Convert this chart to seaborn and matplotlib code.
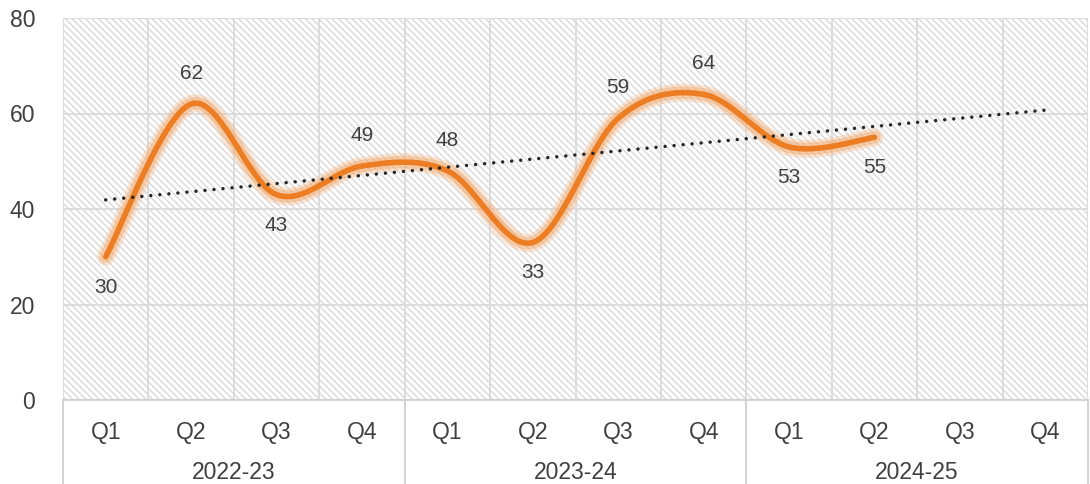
import numpy as np
import pandas as pd
import seaborn as sns
import matplotlib.pyplot as plt
import matplotlib.transforms as mtransforms

# 数据
quarters = ['Q1', 'Q2', 'Q3', 'Q4'] * 3
years = ['2022-23', '2023-24', '2024-25']
values = [30, 62, 43, 49, 48, 33, 59, 64, 53, 55]
label_side = ['below', 'above', 'below', 'above', 'above', 'below', 'above', 'above', 'below', 'below']

sns.set_theme(style='white')
plt.rcParams['font.family'] = ['Liberation Sans', 'DejaVu Sans']
plt.rcParams['hatch.linewidth'] = 1.0
plt.rcParams['hatch.color'] = '#d9d9d9'

text_c = '#404040'
grid_c = '#dadada'
orange = '#ec7d22'


def smooth(y, n=40):
    # 类似 Excel 平滑线 (Bezier, 1/6 张力)
    x = np.arange(len(y), dtype=float)
    y = np.asarray(y, dtype=float)
    px = np.concatenate([[x[0]], x, [x[-1]]])
    py = np.concatenate([[y[0]], y, [y[-1]]])
    t = np.linspace(0, 1, n)
    xs, ys = [], []
    for i in range(len(y) - 1):
        bx = []
        for p in (px, py):
            p0, p1, p2, p3 = p[i], p[i + 1], p[i + 2], p[i + 3]
            c1 = p1 + (p2 - p0) / 6
            c2 = p2 - (p3 - p1) / 6
            bx.append((1 - t) ** 3 * p1 + 3 * (1 - t) ** 2 * t * c1 + 3 * (1 - t) * t ** 2 * c2 + t ** 3 * p2)
        xs.append(bx[0])
        ys.append(bx[1])
    return np.concatenate(xs), np.concatenate(ys)


fig = plt.figure(figsize=(10.9, 4.84), dpi=100)
ax = fig.add_axes([63 / 1090, 84 / 484, (1088 - 63) / 1090, 382 / 484])
ax.set_facecolor('white')
ax.patch.set_hatch(chr(92) * 5)
ax.patch.set_edgecolor('#d9d9d9')

ax.set_xlim(-0.5, 11.5)
ax.set_ylim(0, 80)
ax.set_yticks([0, 20, 40, 60, 80])
ax.set_xticks(range(12))
ax.set_xticklabels(quarters)
ax.set_xticks(np.arange(-0.5, 12, 1), minor=True)
ax.tick_params(axis='both', which='both', length=0, labelsize=16.5, colors=text_c)
ax.tick_params(axis='x', pad=15)
ax.tick_params(axis='y', pad=20)
ax.set_axisbelow(True)
ax.grid(which='minor', axis='x', color=grid_c, lw=1.3)
ax.grid(which='major', axis='y', color=grid_c, lw=1.3)
ax.grid(which='major', axis='x', visible=False)
for s in ['top', 'right', 'left']:
    ax.spines[s].set_visible(False)
ax.spines['bottom'].set_color('#d0d0d0')
ax.spines['bottom'].set_linewidth(1.3)

# 下方分组线
for xb in [-0.5, 3.5, 7.5, 11.5]:
    ax.axvline(xb, ymin=-0.22, ymax=0, clip_on=False, color='#d0d0d0', lw=1.3)
trans = mtransforms.blended_transform_factory(ax.transData, ax.transAxes)
for i, yr in enumerate(years):
    ax.text(i * 4 + 1.5, -0.19, yr, transform=trans, ha='center', va='center',
            fontsize=16.5, color=text_c)

# 平滑曲线 + 光晕
sx, sy = smooth(values)
df = pd.DataFrame({'x': sx, 'y': sy})
sns.lineplot(data=df, x='x', y='y', ax=ax, sort=False, estimator=None, color='#f6b98a',
             lw=13, alpha=0.35, solid_capstyle='round')
sns.lineplot(data=df, x='x', y='y', ax=ax, sort=False, estimator=None, color='#f3a86c',
             lw=9, alpha=0.45, solid_capstyle='round')
sns.lineplot(data=df, x='x', y='y', ax=ax, sort=False, estimator=None, color=orange,
             lw=4, solid_capstyle='round')

# 线性趋势线 (向前预测 2 期)
coef = np.polyfit(np.arange(len(values)), values, 1)
xt = np.array([0, 11])
ax.plot(xt, np.polyval(coef, xt), color='#262626', lw=2.5,
        linestyle=(0, (0.01, 2.6)), dash_capstyle='round', zorder=5)

# 数据标签
for i, (v, side) in enumerate(zip(values, label_side)):
    off = 22 if side == 'above' else -22
    ax.annotate(str(v), (i, v), xytext=(0, off), textcoords='offset points',
                ha='center', va='center', fontsize=15, color=text_c)

ax.set_xlabel('')
ax.set_ylabel('')
fig.savefig('out.png', dpi=100)
